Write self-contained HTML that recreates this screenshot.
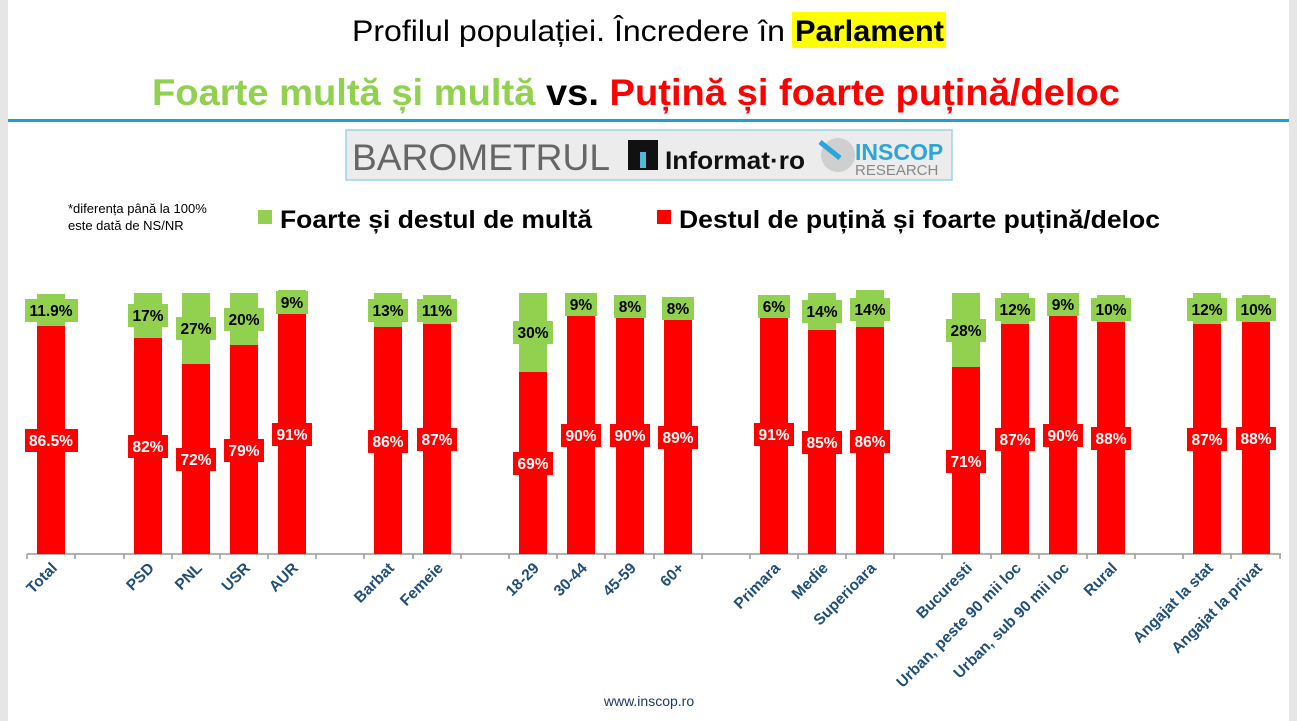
<!DOCTYPE html>
<html><head><meta charset="utf-8"><style>
html,body{margin:0;padding:0;background:#fff}
svg{display:block}
text{font-family:"Liberation Sans",Arial,sans-serif}
.g{fill:#92d050}.r{fill:#ff0000}
.gl{font-size:15.5px;font-weight:bold;fill:#000;text-anchor:middle}
.rl{font-size:15.5px;font-weight:bold;fill:#fff;text-anchor:middle}
.cl{font-size:15.5px;font-weight:bold;fill:#1f4e79;text-anchor:end}
</style></head><body>
<svg width="1297" height="721" viewBox="0 0 1297 721" xmlns="http://www.w3.org/2000/svg">
<rect x="0" y="0" width="1297" height="721" fill="#fff"/>
<rect x="0" y="0" width="8" height="721" fill="#e6e6e6"/>
<rect x="1289" y="0" width="8" height="721" fill="#e6e6e6"/>
<rect x="792" y="12" width="154" height="36" fill="#ffff00"/>
<text x="352" y="41" font-size="30" textLength="433" lengthAdjust="spacingAndGlyphs">Profilul populației. Încredere în</text>
<text x="795" y="41" font-size="30" font-weight="bold" textLength="149" lengthAdjust="spacingAndGlyphs">Parlament</text>
<text x="152" y="105" font-size="37" font-weight="bold" textLength="968" lengthAdjust="spacingAndGlyphs"><tspan fill="#92d050">Foarte multă și multă</tspan><tspan fill="#000"> vs. </tspan><tspan fill="#ff0000">Puțină și foarte puțină/deloc</tspan></text>
<rect x="8" y="119" width="1281" height="3" fill="#1ba1d6"/>
<rect x="346" y="130" width="606" height="50" fill="#ececec" stroke="#9cd3e6" stroke-width="1.5"/>
<text x="352" y="170" font-size="37" fill="#666" textLength="258" lengthAdjust="spacingAndGlyphs">BAROMETRUL</text>
<rect x="628" y="140" width="30" height="30" fill="#111"/>
<rect x="640" y="152" width="6" height="16" fill="#4fb8e0"/>
<text x="665" y="169" font-size="25" font-weight="bold" fill="#111" textLength="140" lengthAdjust="spacingAndGlyphs">Informat·ro</text>
<circle cx="838" cy="155" r="17" fill="#cfcfcf"/>
<line x1="820" y1="142" x2="840" y2="158" stroke="#2aa6d8" stroke-width="5"/>
<text x="855" y="160" font-size="23" font-weight="bold" fill="#2aa6d8">INSCOP</text>
<text x="855" y="175" font-size="15" fill="#888">RESEARCH</text>
<text x="68" y="213" font-size="13" fill="#000">*diferența până la 100%</text>
<text x="68" y="230" font-size="13" fill="#000">este dată de NS/NR</text>
<rect x="258" y="210" width="14" height="14" class="g"/>
<text x="280" y="228" font-size="25" font-weight="bold" textLength="312" lengthAdjust="spacingAndGlyphs">Foarte și destul de multă</text>
<rect x="657" y="210" width="14" height="14" class="r"/>
<text x="679" y="228" font-size="25" font-weight="bold" textLength="481" lengthAdjust="spacingAndGlyphs">Destul de puțină și foarte puțină/deloc</text>
<line x1="27" y1="554" x2="1281" y2="554" stroke="#999" stroke-width="1.5"/>
<g stroke="#999" stroke-width="1.5">
<line x1="27" y1="554" x2="27" y2="559"/><line x1="75" y1="554" x2="75" y2="559"/><line x1="124" y1="554" x2="124" y2="559"/><line x1="172" y1="554" x2="172" y2="559"/><line x1="220" y1="554" x2="220" y2="559"/><line x1="268" y1="554" x2="268" y2="559"/><line x1="316" y1="554" x2="316" y2="559"/><line x1="364" y1="554" x2="364" y2="559"/><line x1="413" y1="554" x2="413" y2="559"/><line x1="461" y1="554" x2="461" y2="559"/><line x1="509" y1="554" x2="509" y2="559"/><line x1="557" y1="554" x2="557" y2="559"/><line x1="605" y1="554" x2="605" y2="559"/><line x1="654" y1="554" x2="654" y2="559"/><line x1="702" y1="554" x2="702" y2="559"/><line x1="750" y1="554" x2="750" y2="559"/><line x1="798" y1="554" x2="798" y2="559"/><line x1="846" y1="554" x2="846" y2="559"/><line x1="894" y1="554" x2="894" y2="559"/><line x1="942" y1="554" x2="942" y2="559"/><line x1="991" y1="554" x2="991" y2="559"/><line x1="1039" y1="554" x2="1039" y2="559"/><line x1="1087" y1="554" x2="1087" y2="559"/><line x1="1135" y1="554" x2="1135" y2="559"/><line x1="1183" y1="554" x2="1183" y2="559"/><line x1="1231" y1="554" x2="1231" y2="559"/><line x1="1280" y1="554" x2="1280" y2="559"/>
</g>
<rect class="g" x="37" y="294" width="28" height="32"/><rect class="r" x="37" y="326" width="28" height="228"/>
<rect class="g" x="134" y="293" width="28" height="45"/><rect class="r" x="134" y="338" width="28" height="216"/>
<rect class="g" x="182" y="293" width="28" height="71"/><rect class="r" x="182" y="364" width="28" height="190"/>
<rect class="g" x="230" y="293" width="28" height="53"/><rect class="r" x="230" y="345" width="28" height="209"/>
<rect class="g" x="278" y="290" width="28" height="24"/><rect class="r" x="278" y="314" width="28" height="240"/>
<rect class="g" x="374" y="293" width="28" height="34"/><rect class="r" x="374" y="327" width="28" height="227"/>
<rect class="g" x="423" y="295" width="28" height="30"/><rect class="r" x="423" y="324" width="28" height="230"/>
<rect class="g" x="519" y="293" width="28" height="79"/><rect class="r" x="519" y="372" width="28" height="182"/>
<rect class="g" x="567" y="293" width="28" height="24"/><rect class="r" x="567" y="316" width="28" height="238"/>
<rect class="g" x="616" y="295" width="28" height="21"/><rect class="r" x="616" y="316" width="28" height="238"/>
<rect class="g" x="664" y="298" width="28" height="21"/><rect class="r" x="664" y="319" width="28" height="235"/>
<rect class="g" x="760" y="298" width="28" height="16"/><rect class="r" x="760" y="314" width="28" height="240"/>
<rect class="g" x="808" y="293" width="28" height="37"/><rect class="r" x="808" y="330" width="28" height="224"/>
<rect class="g" x="856" y="290" width="28" height="37"/><rect class="r" x="856" y="327" width="28" height="227"/>
<rect class="g" x="952" y="293" width="28" height="74"/><rect class="r" x="952" y="367" width="28" height="187"/>
<rect class="g" x="1001" y="293" width="28" height="32"/><rect class="r" x="1001" y="324" width="28" height="230"/>
<rect class="g" x="1049" y="293" width="28" height="24"/><rect class="r" x="1049" y="316" width="28" height="238"/>
<rect class="g" x="1097" y="295" width="28" height="27"/><rect class="r" x="1097" y="322" width="28" height="232"/>
<rect class="g" x="1193" y="293" width="28" height="32"/><rect class="r" x="1193" y="324" width="28" height="230"/>
<rect class="g" x="1242" y="295" width="28" height="27"/><rect class="r" x="1242" y="322" width="28" height="232"/>
<g>
<rect class="g" x="25" y="299" width="53" height="23"/><text class="gl" x="51" y="316">11.9%</text>
<rect class="g" x="128" y="304" width="40" height="23"/><text class="gl" x="148" y="321">17%</text>
<rect class="g" x="176" y="317" width="40" height="23"/><text class="gl" x="196" y="334">27%</text>
<rect class="g" x="224" y="308" width="40" height="23"/><text class="gl" x="244" y="325">20%</text>
<rect class="g" x="276" y="291" width="32" height="23"/><text class="gl" x="292" y="308">9%</text>
<rect class="g" x="368" y="299" width="40" height="23"/><text class="gl" x="388" y="316">13%</text>
<rect class="g" x="417" y="299" width="40" height="23"/><text class="gl" x="437" y="316">11%</text>
<rect class="g" x="513" y="321" width="40" height="23"/><text class="gl" x="533" y="338">30%</text>
<rect class="g" x="565" y="293" width="32" height="23"/><text class="gl" x="581" y="310">9%</text>
<rect class="g" x="614" y="295" width="32" height="23"/><text class="gl" x="630" y="312">8%</text>
<rect class="g" x="662" y="297" width="32" height="23"/><text class="gl" x="678" y="314">8%</text>
<rect class="g" x="758" y="295" width="32" height="23"/><text class="gl" x="774" y="312">6%</text>
<rect class="g" x="802" y="300" width="40" height="23"/><text class="gl" x="822" y="317">14%</text>
<rect class="g" x="850" y="298" width="40" height="23"/><text class="gl" x="870" y="315">14%</text>
<rect class="g" x="946" y="319" width="40" height="23"/><text class="gl" x="966" y="336">28%</text>
<rect class="g" x="995" y="298" width="40" height="23"/><text class="gl" x="1015" y="315">12%</text>
<rect class="g" x="1047" y="293" width="32" height="23"/><text class="gl" x="1063" y="310">9%</text>
<rect class="g" x="1091" y="298" width="40" height="23"/><text class="gl" x="1111" y="315">10%</text>
<rect class="g" x="1187" y="298" width="40" height="23"/><text class="gl" x="1207" y="315">12%</text>
<rect class="g" x="1236" y="298" width="40" height="23"/><text class="gl" x="1256" y="315">10%</text>
</g>
<g>
<rect class="r" x="25" y="429" width="53" height="23"/><text class="rl" x="51" y="446">86.5%</text>
<rect class="r" x="128" y="435" width="40" height="23"/><text class="rl" x="148" y="452">82%</text>
<rect class="r" x="176" y="448" width="40" height="23"/><text class="rl" x="196" y="465">72%</text>
<rect class="r" x="224" y="439" width="40" height="23"/><text class="rl" x="244" y="456">79%</text>
<rect class="r" x="272" y="423" width="40" height="23"/><text class="rl" x="292" y="440">91%</text>
<rect class="r" x="368" y="430" width="40" height="23"/><text class="rl" x="388" y="447">86%</text>
<rect class="r" x="417" y="428" width="40" height="23"/><text class="rl" x="437" y="445">87%</text>
<rect class="r" x="513" y="452" width="40" height="23"/><text class="rl" x="533" y="469">69%</text>
<rect class="r" x="561" y="424" width="40" height="23"/><text class="rl" x="581" y="441">90%</text>
<rect class="r" x="610" y="424" width="40" height="23"/><text class="rl" x="630" y="441">90%</text>
<rect class="r" x="658" y="426" width="40" height="23"/><text class="rl" x="678" y="443">89%</text>
<rect class="r" x="754" y="423" width="40" height="23"/><text class="rl" x="774" y="440">91%</text>
<rect class="r" x="802" y="431" width="40" height="23"/><text class="rl" x="822" y="448">85%</text>
<rect class="r" x="850" y="430" width="40" height="23"/><text class="rl" x="870" y="447">86%</text>
<rect class="r" x="946" y="450" width="40" height="23"/><text class="rl" x="966" y="467">71%</text>
<rect class="r" x="995" y="428" width="40" height="23"/><text class="rl" x="1015" y="445">87%</text>
<rect class="r" x="1043" y="424" width="40" height="23"/><text class="rl" x="1063" y="441">90%</text>
<rect class="r" x="1091" y="427" width="40" height="23"/><text class="rl" x="1111" y="444">88%</text>
<rect class="r" x="1187" y="428" width="40" height="23"/><text class="rl" x="1207" y="445">87%</text>
<rect class="r" x="1236" y="427" width="40" height="23"/><text class="rl" x="1256" y="444">88%</text>
</g>
<g>
<text class="cl" transform="translate(58,569) rotate(-45)">Total</text>
<text class="cl" transform="translate(155,569) rotate(-45)">PSD</text>
<text class="cl" transform="translate(203,569) rotate(-45)">PNL</text>
<text class="cl" transform="translate(251,569) rotate(-45)">USR</text>
<text class="cl" transform="translate(299,569) rotate(-45)">AUR</text>
<text class="cl" transform="translate(395,569) rotate(-45)">Barbat</text>
<text class="cl" transform="translate(444,569) rotate(-45)">Femeie</text>
<text class="cl" transform="translate(540,569) rotate(-45)">18-29</text>
<text class="cl" transform="translate(588,569) rotate(-45)">30-44</text>
<text class="cl" transform="translate(637,569) rotate(-45)">45-59</text>
<text class="cl" transform="translate(685,569) rotate(-45)">60+</text>
<text class="cl" transform="translate(781,569) rotate(-45)">Primara</text>
<text class="cl" transform="translate(829,569) rotate(-45)">Medie</text>
<text class="cl" transform="translate(877,569) rotate(-45)">Superioara</text>
<text class="cl" transform="translate(973,569) rotate(-45)">Bucuresti</text>
<text class="cl" transform="translate(1022,569) rotate(-45)">Urban, peste 90 mii loc</text>
<text class="cl" transform="translate(1070,569) rotate(-45)">Urban, sub 90 mii loc</text>
<text class="cl" transform="translate(1118,569) rotate(-45)">Rural</text>
<text class="cl" transform="translate(1214,569) rotate(-45)">Angajat la stat</text>
<text class="cl" transform="translate(1263,569) rotate(-45)">Angajat la privat</text>
</g>
<text x="649" y="706" font-size="14" fill="#1f3a60" text-anchor="middle">www.inscop.ro</text>
</svg>
</body></html>
